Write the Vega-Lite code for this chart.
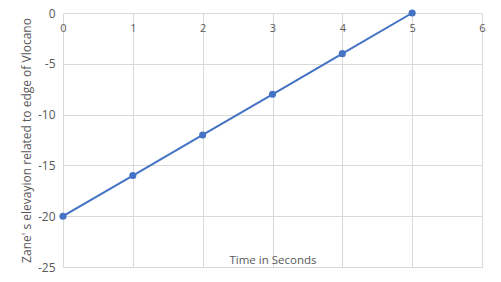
{
  "$schema": "https://vega.github.io/schema/vega-lite/v6.json",
  "width": 419,
  "height": 254,
  "autosize": {"type": "none"},
  "padding": {"left": 63, "top": 13, "right": 19, "bottom": 15},
  "background": "white",
  "config": {
    "view": {"stroke": null},
    "font": "Open Sans",
    "axis": {"labelColor": "#595959", "titleColor": "#595959", "labelFont": "Open Sans", "titleFont": "Open Sans", "gridColor": "#d9d9d9", "gridWidth": 1}
  },
  "data": {"values": [
    {"time": 0, "elev": -20},
    {"time": 1, "elev": -16},
    {"time": 2, "elev": -12},
    {"time": 3, "elev": -8},
    {"time": 4, "elev": -4},
    {"time": 5, "elev": 0}
  ]},
  "resolve": {"axis": {"x": "independent"}},
  "layer": [
    {
      "mark": {"type": "line", "color": "#4472C4", "strokeWidth": 2},
      "encoding": {
        "x": {"field": "time", "type": "quantitative", "scale": {"domain": [0, 6], "nice": false, "zero": false},
          "axis": {"orient": "top", "values": [0,1,2,3,4,5,6], "domain": false, "ticks": false, "labelPadding": -20, "labelFontSize": 11, "labelAngle": 0, "title": null, "grid": true, "labelFlush": false}},
        "y": {"field": "elev", "type": "quantitative", "scale": {"domain": [-25, 0], "nice": false},
          "axis": {"values": [0,-5,-10,-15,-20,-25], "domain": false, "ticks": false, "labelPadding": 8, "labelFontSize": 12, "grid": true,
            "labelExpr": "replace(datum.label, '\u2212', '-')",
            "title": "Zane' s elevayion related to edge of Vlocano", "titleFontSize": 12, "titleFontWeight": "normal", "titlePadding": 4}}
      }
    },
    {
      "mark": {"type": "point", "filled": true, "color": "#4472C4", "size": 50, "opacity": 1},
      "encoding": {
        "x": {"field": "time", "type": "quantitative", "scale": {"domain": [0, 6], "nice": false, "zero": false},
          "axis": {"orient": "bottom", "labels": false, "ticks": false, "domain": false, "grid": false,
            "title": "Time in Seconds", "titleFontSize": 11.5, "titleFontWeight": "normal", "titlePadding": -13, "titleBaseline": "top"}},
        "y": {"field": "elev", "type": "quantitative"}
      }
    }
  ]
}
